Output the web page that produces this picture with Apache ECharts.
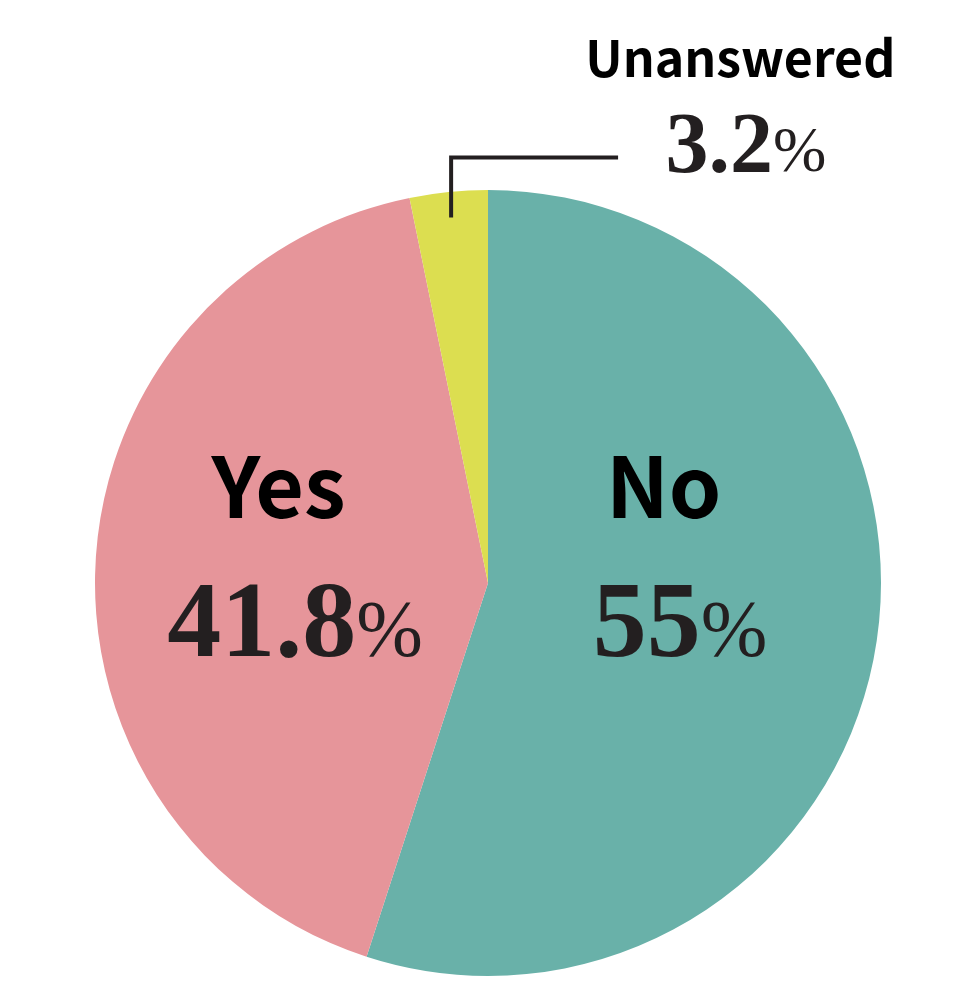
<!DOCTYPE html>
<html>
<head>
<meta charset="utf-8">
<script src="https://cdn.jsdelivr.net/npm/echarts@6/dist/echarts.min.js"></script>
<style>
html,body{margin:0;padding:0;background:#fff;}
#main{width:974px;height:998px;}
</style>
</head>
<body>
<div id="main"></div>
<script>
var categories = ['No', 'Yes', 'Unanswered'];
var values = [55, 41.8, 3.2];
var valueLabels = ['55', '41.8', '3.2'];
var colors = ['#69B1A9', '#E6959A', '#DCDE50'];

var CX = 488, CY = 583, R = 393;

var sansFont = '"Noto Sans CJK JP", "Liberation Sans", sans-serif';
var serifFont = '"Liberation Serif", "DejaVu Serif", serif';

var rich = {
  n: { fontFamily: sansFont, fontWeight: 'bold', fontSize: 84, lineHeight: 142, color: '#000' },
  sp: { fontSize: 10, width: 33 },
  sp2: { fontSize: 10, width: 11 },
  v: { fontFamily: serifFont, fontWeight: 'bold', fontSize: 108, lineHeight: 142, color: '#231f20' },
  p: { fontFamily: serifFont, fontWeight: 'normal', fontSize: 80, padding: [14, 0, 0, 0], color: '#231f20' },
  u: { fontFamily: sansFont, fontWeight: 'bold', fontSize: 50, lineHeight: 92, color: '#000' },
  v2: { fontFamily: serifFont, fontWeight: 'bold', fontSize: 86, lineHeight: 92, color: '#231f20' },
  p2: { fontFamily: serifFont, fontWeight: 'normal', fontSize: 64, padding: [9, 0, 0, 0], color: '#231f20' }
};

var data = categories.map(function (c, i) {
  var small = i === 2;
  return {
    name: c,
    value: values[i],
    itemStyle: { color: colors[i] },
    label: {
      show: true,
      position: small ? 'outside' : 'inside',
      formatter: small
        ? '{u|' + c + '}{sp2| }\n{v2|' + valueLabels[i] + '}{p2|%}'
        : '{n|' + c + '}{sp| }\n{v|' + valueLabels[i] + '}{p|%}',
      rich: rich
    },
    labelLine: { show: false }
  };
});

// angle (clockwise from top, degrees) of the middle of each slice
var total = values.reduce(function (a, b) { return a + b; }, 0);
function midAngle(idx) {
  var s = 0;
  for (var k = 0; k < idx; k++) s += values[k];
  return (s + values[idx] / 2) / total * 360;
}

// leader line for the small slice, derived from its angle
var am = midAngle(2) * Math.PI / 180;
var lsx = CX + 0.935 * R * Math.sin(am);
var lsy = CY - 0.935 * R * Math.cos(am);
var lty = CY - 1.083 * R;

var chart = echarts.init(document.getElementById('main'), null, { renderer: 'canvas' });
chart.setOption({
  backgroundColor: '#ffffff',
  animation: false,
  graphic: [{
    type: 'polyline',
    z: 100,
    shape: { points: [[lsx, lsy], [lsx, lty], [CX + 0.331 * R, lty]] },
    style: { stroke: '#231f20', lineWidth: 4, fill: null, lineJoin: 'miter', lineCap: 'butt' }
  }],
  series: [{
    type: 'pie',
    center: [CX, CY],
    radius: [0, R],
    startAngle: 90,
    clockwise: true,
    avoidLabelOverlap: false,
    data: data,
    labelLayout: function (params) {
      var i = params.dataIndex;
      if (i === 0) {
        return { x: CX + 0.489 * R, y: CY - 26, align: 'center', verticalAlign: 'middle' };
      } else if (i === 1) {
        return { x: CX - 0.491 * R, y: CY - 26, align: 'center', verticalAlign: 'middle' };
      }
      return { x: CX + 0.656 * R, y: 12, align: 'center', verticalAlign: 'top' };
    }
  }]
});
</script>
</body>
</html>
